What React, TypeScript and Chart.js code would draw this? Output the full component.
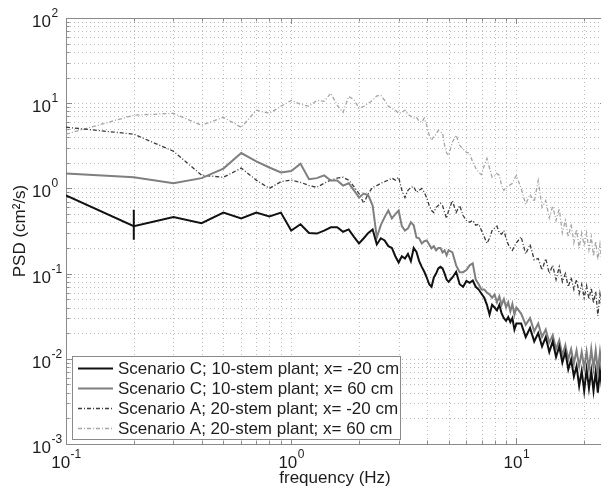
import React, { useEffect, useRef } from 'react';
import { Chart, registerables } from 'chart.js';

Chart.register(...registerables);

// ---------- data ----------
const freqs = [
  0.1, 0.2, 0.3, 0.4, 0.5, 0.6, 0.7, 0.8, 0.9, 1.0,
  1.1, 1.2, 1.3, 1.4, 1.5, 1.6, 1.7, 1.8, 1.9, 2.0,
  2.1, 2.2, 2.3, 2.4, 2.5, 2.6, 2.7, 2.8, 2.9, 3.0,
  3.1, 3.2, 3.3, 3.4, 3.5, 3.6, 3.7, 3.8, 3.9, 4.0,
  4.1, 4.2, 4.3, 4.4, 4.5, 4.6, 4.7, 4.8, 4.9, 5.0,
  5.2, 5.4, 5.6, 5.8, 6.0, 6.2, 6.4, 6.6, 6.8, 7.0,
  7.2, 7.4, 7.6, 7.8, 8.0, 8.2, 8.4, 8.6, 8.8, 9.0,
  9.2, 9.4, 9.6, 9.8, 10.0,
  10.5, 11, 11.5, 12, 12.5, 13, 13.5, 14, 14.5, 15,
  15.5, 16, 16.5, 17, 17.5, 18, 18.5, 19, 19.5, 20,
  20.5, 21, 21.5, 22, 22.5, 23, 23.5, 24, 24.5, 25,
];

// Scenario C; 10-stem plant; x = -20 cm
const psdC_m20 = [
  0.83, 0.36, 0.46, 0.39, 0.52, 0.445, 0.52, 0.47, 0.52, 0.32,
  0.38, 0.30, 0.295, 0.32, 0.35, 0.35, 0.31, 0.33, 0.27, 0.226,
  0.26, 0.30, 0.33, 0.22, 0.26, 0.245, 0.21, 0.2, 0.16, 0.135,
  0.16, 0.15, 0.17, 0.14, 0.2, 0.18, 0.14, 0.12, 0.105, 0.09,
  0.075, 0.07, 0.09, 0.1, 0.115, 0.12, 0.115, 0.1, 0.085, 0.08,
  0.09, 0.105, 0.075, 0.07, 0.082, 0.078, 0.083, 0.07, 0.065, 0.058,
  0.052, 0.043, 0.033, 0.043, 0.04, 0.037, 0.043, 0.034, 0.03, 0.028,
  0.031, 0.027, 0.03, 0.022, 0.026,
  0.026, 0.018, 0.023, 0.016, 0.02, 0.014, 0.018, 0.012, 0.016, 0.0105,
  0.014, 0.009, 0.012, 0.0075, 0.0098, 0.0062, 0.0082, 0.0048, 0.0072, 0.0042,
  0.0075, 0.0045, 0.0072, 0.0042, 0.007, 0.004, 0.0072, 0.0045, 0.0068, 0.0048,
];

// Scenario C; 10-stem plant; x = 60 cm
const psdC_60 = [
  1.5, 1.35, 1.15, 1.32, 1.71, 2.6, 2.07, 1.76, 1.54, 1.6,
  1.95, 1.28, 1.32, 1.42, 1.24, 1.24, 1.08, 1.15, 0.95, 0.78,
  0.87, 0.83, 0.63, 0.265, 0.37, 0.46, 0.55, 0.445, 0.5, 0.55,
  0.36, 0.32, 0.34, 0.4, 0.37, 0.265, 0.26, 0.226, 0.24, 0.245,
  0.22, 0.198, 0.21, 0.188, 0.2, 0.2, 0.177, 0.188, 0.164, 0.188,
  0.177, 0.125, 0.104, 0.104, 0.11, 0.125, 0.132, 0.085, 0.075, 0.065,
  0.065, 0.06, 0.057, 0.052, 0.057, 0.046, 0.054, 0.043, 0.05, 0.04,
  0.046, 0.036, 0.044, 0.033, 0.04,
  0.034, 0.025, 0.03, 0.021, 0.026, 0.018, 0.022, 0.0155, 0.019, 0.013,
  0.0165, 0.011, 0.0145, 0.0098, 0.013, 0.0088, 0.0125, 0.0082, 0.012, 0.0078,
  0.0122, 0.0076, 0.013, 0.0078, 0.0125, 0.0072, 0.012, 0.0075, 0.0118, 0.008,
];

// Scenario A; 20-stem plant; x = -20 cm
const psdA_m20 = [
  5.23, 4.33, 2.73, 1.43, 1.35, 1.73, 1.25, 1.0, 1.2, 1.25,
  1.18, 1.08, 1.03, 1.15, 1.25, 1.32, 1.35, 1.25, 1.05, 0.87,
  0.67, 0.87, 1.03, 1.08, 1.15, 1.2, 1.25, 1.32, 1.25, 1.35,
  0.95, 0.78, 0.95, 1.03, 1.05, 0.9, 0.95, 1.0, 0.9, 0.77,
  0.63, 0.55, 0.52, 0.6, 0.63, 0.67, 0.63, 0.52, 0.445, 0.55,
  0.72, 0.52, 0.63, 0.48, 0.42, 0.4, 0.42, 0.37, 0.38, 0.32,
  0.27, 0.226, 0.26, 0.32, 0.34, 0.36, 0.30, 0.29, 0.32, 0.26,
  0.22, 0.2, 0.188, 0.21, 0.23,
  0.27, 0.17, 0.22, 0.145, 0.15, 0.11, 0.15, 0.1, 0.125, 0.085,
  0.12, 0.08, 0.1, 0.07, 0.09, 0.065, 0.085, 0.058, 0.075, 0.052,
  0.072, 0.05, 0.068, 0.045, 0.062, 0.032, 0.058, 0.04, 0.055, 0.045,
];

// Scenario A; 20-stem plant; x = 60 cm
const psdA_60 = [
  4.33, 7.23, 7.6, 5.5, 6.85, 5.2, 8.28, 7.6, 9.2, 10.8,
  9.7, 9.2, 10.8, 10.5, 13.1, 9.5, 7.8, 12.0, 11.0, 8.7,
  9.2, 10, 10.8, 12.2, 12.4, 10.8, 9.2, 8.7, 8.3, 7.6,
  7.8, 8.3, 7.4, 7.0, 6.7, 6.85, 6.15, 6.0, 6.7, 5.5,
  4.2, 3.68, 4.1, 4.3, 4.8, 4.57, 4.5, 3.2, 2.6, 2.45,
  3.5, 4.2, 3.2, 2.9, 2.65, 2.6, 2.03, 1.73, 1.54, 1.45,
  1.86, 2.25, 1.73, 1.35, 1.4, 1.5, 1.42, 1.08, 0.95, 1.03,
  1.08, 1.1, 1.15, 1.3, 1.42,
  1.0, 0.65, 0.85, 0.7, 1.24, 0.6, 0.72, 0.45, 0.62, 0.42,
  0.58, 0.3, 0.42, 0.27, 0.38, 0.23, 0.33, 0.2, 0.3, 0.21,
  0.3, 0.19, 0.27, 0.16, 0.24, 0.145, 0.22, 0.13, 0.2, 0.15,
];

// single error bar on the black curve
const errFreq = [0.2, 0.2];
const errBar = [0.56, 0.25];

const legendLabels = [
  'Scenario C; 10-stem plant; x= -20 cm',
  'Scenario C; 10-stem plant; x= 60 cm',
  'Scenario A; 20-stem plant; x= -20 cm',
  'Scenario A; 20-stem plant; x= 60 cm',
];

const xGridValues = [
  0.1, 0.2, 0.3, 0.4, 0.5, 0.6, 0.7, 0.8, 0.9,
  1, 2, 3, 4, 5, 6, 7, 8, 9, 10, 20,
];
const yGridValues = [
  0.001, 0.002, 0.003, 0.004, 0.005, 0.006, 0.007, 0.008, 0.009,
  0.01, 0.02, 0.03, 0.04, 0.05, 0.06, 0.07, 0.08, 0.09,
  0.1, 0.2, 0.3, 0.4, 0.5, 0.6, 0.7, 0.8, 0.9,
  1, 2, 3, 4, 5, 6, 7, 8, 9,
  10, 20, 30, 40, 50, 60, 70, 80, 90, 100,
];
const xMajorExps = [-1, 0, 1];
const yMajorExps = [-3, -2, -1, 0, 1, 2];

const xTitle = 'frequency (Hz)';
const yTitle = 'PSD (cm\u00B2/s)';

// ---------- styling ----------
const FONT = '"Liberation Sans", Arial, Helvetica, sans-serif';
const TEXT = '#1c1c1c';
const seriesStyles = [
  { color: '#111111', width: 2, dash: [] as number[] },
  { color: '#7f7f7f', width: 2, dash: [] as number[] },
  { color: '#3c3c3c', width: 1.3, dash: [4, 2, 1, 2] },
  { color: '#a6a6a6', width: 1.3, dash: [4, 2, 1, 2] },
];

function drawPow(ctx: CanvasRenderingContext2D, exp: number, x: number, y: number, align: 'left' | 'center') {
  ctx.font = `17px ${FONT}`;
  const wb = ctx.measureText('10').width;
  ctx.font = `12px ${FONT}`;
  const es = String(exp);
  const we = ctx.measureText(es).width;
  const x0 = align === 'left' ? x : x - (wb + we) / 2;
  ctx.textAlign = 'left';
  ctx.textBaseline = 'alphabetic';
  ctx.fillStyle = TEXT;
  ctx.font = `17px ${FONT}`;
  ctx.fillText('10', x0, y);
  ctx.font = `12px ${FONT}`;
  ctx.fillText(es, x0 + wb + 0.5, y - 10);
}

const decorPlugin = {
  id: 'decor',
  beforeDatasetsDraw(chart: any) {
    const { ctx, chartArea: a, scales } = chart;
    const xs = scales.x;
    const ys = scales.y;
    ctx.save();
    // dotted grid
    ctx.strokeStyle = 'rgba(80,80,80,0.38)';
    ctx.lineWidth = 1;
    ctx.setLineDash([1, 3]);
    for (const v of xGridValues) {
      const px = Math.round(xs.getPixelForValue(v)) + 0.5;
      ctx.beginPath();
      ctx.moveTo(px, a.top);
      ctx.lineTo(px, a.bottom);
      ctx.stroke();
    }
    for (const v of yGridValues) {
      const py = Math.round(ys.getPixelForValue(v)) + 0.5;
      ctx.beginPath();
      ctx.moveTo(a.left, py);
      ctx.lineTo(a.right, py);
      ctx.stroke();
    }
    ctx.setLineDash([]);
    // ticks inside the box
    ctx.strokeStyle = '#8a8a8a';
    for (const v of xGridValues) {
      const px = Math.round(xs.getPixelForValue(v)) + 0.5;
      const major = xMajorExps.some((e) => Math.abs(Math.pow(10, e) - v) < 1e-9);
      const len = major ? 6 : 3.5;
      ctx.beginPath();
      ctx.moveTo(px, a.bottom);
      ctx.lineTo(px, a.bottom - len);
      ctx.moveTo(px, a.top);
      ctx.lineTo(px, a.top + len);
      ctx.stroke();
    }
    for (const v of yGridValues) {
      const py = Math.round(ys.getPixelForValue(v)) + 0.5;
      const major = yMajorExps.some((e) => Math.abs(Math.pow(10, e) - v) / v < 1e-9);
      const len = major ? 6 : 3.5;
      ctx.beginPath();
      ctx.moveTo(a.left, py);
      ctx.lineTo(a.left + len, py);
      ctx.moveTo(a.right, py);
      ctx.lineTo(a.right - len, py);
      ctx.stroke();
    }
    // box
    ctx.strokeStyle = '#8a8a8a';
    ctx.lineWidth = 1;
    ctx.strokeRect(Math.round(a.left) + 0.5, Math.round(a.top) + 0.5, Math.round(a.right - a.left), Math.round(a.bottom - a.top));
    ctx.restore();
  },
  afterDraw(chart: any) {
    const { ctx, chartArea: a, scales } = chart;
    const xs = scales.x;
    const ys = scales.y;
    ctx.save();
    // tick labels
    for (const e of yMajorExps) {
      const py = ys.getPixelForValue(Math.pow(10, e));
      drawPow(ctx, e, 32, py + 9, 'left');
    }
    for (const e of xMajorExps) {
      const px = xs.getPixelForValue(Math.pow(10, e));
      drawPow(ctx, e, px, a.bottom + 24, 'center');
    }
    // axis titles
    ctx.fillStyle = TEXT;
    ctx.font = `17px ${FONT}`;
    ctx.textAlign = 'center';
    ctx.textBaseline = 'alphabetic';
    ctx.fillText(xTitle, 335, a.bottom + 39);
    ctx.save();
    ctx.translate(25, (a.top + a.bottom) / 2);
    ctx.rotate(-Math.PI / 2);
    ctx.fillText(yTitle, 0, 0);
    ctx.restore();
    // legend
    const lx = 72, ly = 356, lw = 328, lh = 83;
    ctx.fillStyle = '#ffffff';
    ctx.fillRect(lx, ly, lw, lh);
    ctx.strokeStyle = '#8a8a8a';
    ctx.lineWidth = 1;
    ctx.strokeRect(lx + 0.5, ly + 0.5, lw, lh);
    legendLabels.forEach((lab, i) => {
      const y = ly + 12 + i * 20;
      const st = seriesStyles[i];
      ctx.strokeStyle = st.color;
      ctx.lineWidth = st.width;
      ctx.setLineDash(st.dash);
      ctx.beginPath();
      ctx.moveTo(lx + 6, y + 0.5);
      ctx.lineTo(lx + 41, y + 0.5);
      ctx.stroke();
      ctx.setLineDash([]);
      ctx.fillStyle = TEXT;
      ctx.font = `17px ${FONT}`;
      ctx.textAlign = 'left';
      ctx.textBaseline = 'middle';
      ctx.fillText(lab, lx + 46, y + 1);
    });
    ctx.restore();
  },
};

export default function App() {
  const ref = useRef<HTMLCanvasElement | null>(null);

  useEffect(() => {
    if (!ref.current) return;
    const mk = (vals: number[]) => freqs.map((f, i) => ({ x: f, y: vals[i] }));
    const series = [psdC_m20, psdC_60, psdA_m20, psdA_60];
    const datasets: any[] = [];
    series.forEach((vals, i) => {
      const st = seriesStyles[i];
      datasets.push({
        label: legendLabels[i],
        data: mk(vals),
        borderColor: st.color,
        borderWidth: st.width,
        borderDash: st.dash,
        pointRadius: 0,
        tension: 0,
        fill: false,
      });
      if (i === 0) {
        datasets.push({
          label: 'error bar',
          data: errFreq.map((f, k) => ({ x: f, y: errBar[k] })),
          borderColor: st.color,
          borderWidth: 2,
          pointRadius: 0,
          fill: false,
        });
      }
    });
    const chart = new Chart(ref.current, {
      type: 'line',
      data: { datasets },
      options: {
        responsive: false,
        animation: false,
        events: [],
        layout: { padding: { left: 66, top: 18, right: 14, bottom: 48 } },
        plugins: { legend: { display: false }, tooltip: { enabled: false } },
        scales: {
          x: { type: 'logarithmic', min: 0.1, max: 25, display: false },
          y: { type: 'logarithmic', min: 0.001, max: 100, display: false },
        },
      },
      plugins: [decorPlugin],
    } as any);
    return () => chart.destroy();
  }, []);

  return (
    <div
      style={{
        position: 'fixed',
        left: 0,
        top: 0,
        width: 601,
        height: 492,
        overflow: 'hidden',
        background: '#ffffff',
      }}
    >
      <canvas ref={ref} width={620} height={492} style={{ width: 620, height: 492, display: 'block' }} />
    </div>
  );
}
